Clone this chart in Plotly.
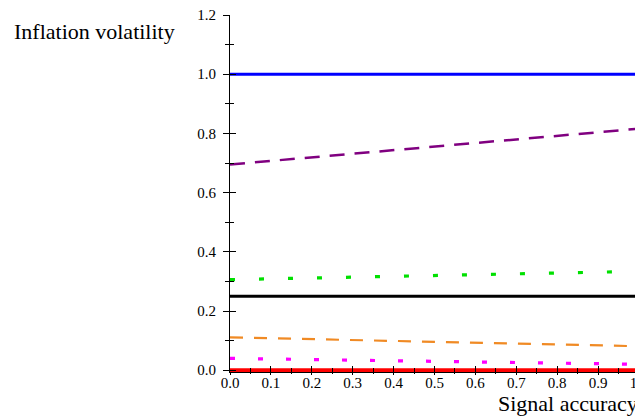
import plotly.graph_objects as go

x_vals = [0.0, 0.1, 0.2, 0.3, 0.4, 0.5, 0.6, 0.7, 0.8, 0.9, 1.0]
blue_vals = [1.0] * 11
purple_vals = [0.695, 0.707, 0.720, 0.732, 0.744, 0.756, 0.768, 0.780, 0.792, 0.804, 0.816]
green_vals = [0.306, 0.309, 0.312, 0.315, 0.318, 0.321, 0.324, 0.327, 0.330, 0.332, 0.334]
black_vals = [0.25] * 11
orange_vals = [0.111, 0.108, 0.105, 0.102, 0.099, 0.096, 0.093, 0.090, 0.087, 0.084, 0.081]
magenta_vals = [0.040, 0.038, 0.036, 0.034, 0.032, 0.030, 0.028, 0.026, 0.024, 0.022, 0.020]
red_vals = [0.0] * 11

series = [
    (blue_vals, "#0000ff", 3, "solid"),
    (purple_vals, "#800080", 2.5, "15px,10px"),
    (green_vals, "#00e000", 3.2, "5px,24px"),
    (black_vals, "#000000", 3, "solid"),
    (orange_vals, "#f08a24", 2.2, "13px,11px"),
    (magenta_vals, "#ff00ff", 3.2, "5px,23px"),
    (red_vals, "#ff0000", 4, "solid"),
]

font_family = "Liberation Serif, Times New Roman, serif"

fig = go.Figure()
for vals, col, w, dash in series:
    fig.add_trace(go.Scatter(x=x_vals, y=vals, mode="lines",
                             line=dict(color=col, width=w, dash=dash),
                             showlegend=False, hoverinfo="skip"))

yr = [-0.006, 1.2]
xr = [0.0, 1.0]

common_font = dict(family=font_family, size=15, color="black")

fig.update_layout(
    width=635, height=411,
    margin=dict(l=222, r=4, t=7, b=47, autoexpand=False),
    paper_bgcolor="white", plot_bgcolor="white",
    font=common_font,
    xaxis=dict(range=xr, showgrid=False, zeroline=False, showline=True,
               linecolor="black", linewidth=1,
               tickmode="linear", tick0=0, dtick=0.1, tickformat=".1f",
               ticks="outside", ticklen=2, tickcolor="black", tickwidth=1,
               minor=dict(ticks="outside", ticklen=1, dtick=0.05, tick0=0, tickcolor="black"),
               tickfont=common_font, ticklabeloverflow="allow", ticklabelstandoff=-5),
    yaxis=dict(range=yr, showgrid=False, zeroline=False, showline=True,
               linecolor="black", linewidth=1,
               tickmode="linear", tick0=0, dtick=0.2, tickformat=".1f",
               ticks="outside", ticklen=6, tickcolor="black", tickwidth=1,
               minor=dict(ticks="outside", ticklen=4, dtick=0.1, tick0=0, tickcolor="black"),
               tickfont=common_font, ticklabelstandoff=4, ticklabeloverflow="allow"),
    xaxis2=dict(range=xr, overlaying="x", side="bottom", anchor="y",
                showgrid=False, zeroline=False, showticklabels=False,
                tickmode="linear", tick0=0, dtick=0.1,
                ticks="inside", ticklen=6, tickcolor="black",
                minor=dict(ticks="inside", ticklen=4, dtick=0.05, tick0=0, tickcolor="black")),
    yaxis2=dict(range=yr, overlaying="y", side="left", anchor="x",
                showgrid=False, zeroline=False, showticklabels=False,
                tickmode="linear", tick0=0, dtick=0.2,
                ticks="inside", ticklen=6, tickcolor="black",
                minor=dict(ticks="inside", ticklen=4, dtick=0.1, tick0=0, tickcolor="black")),
)

# dummy trace to activate overlay axes
fig.add_trace(go.Scatter(x=[0], y=[0], xaxis="x2", yaxis="y2", mode="markers",
                         marker=dict(opacity=0), showlegend=False, hoverinfo="skip"))

fig.add_annotation(text="Inflation volatility", xref="paper", yref="paper",
                   x=-0.533, y=0.955, xanchor="left", yanchor="middle",
                   showarrow=False, font=dict(family=font_family, size=22, color="black"))
fig.add_annotation(text="Signal accuracy", xref="paper", yref="paper",
                   x=1.003, y=-0.087, xanchor="right", yanchor="middle",
                   showarrow=False, font=dict(family=font_family, size=22, color="black"))

fig.write_html("out.html")
